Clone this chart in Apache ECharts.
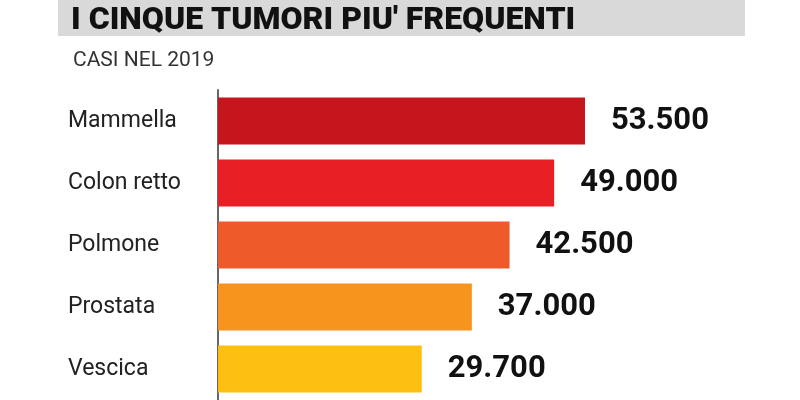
<!DOCTYPE html>
<html><head><meta charset="utf-8">
<script src="https://cdn.jsdelivr.net/npm/echarts@6/dist/echarts.min.js"></script>
<style>html,body{margin:0;background:#fff}#c{width:800px;height:400px}</style>
</head><body><div id="c"></div>
<script>
const categories = ['Mammella','Colon retto','Polmone','Prostata','Vescica'];
const values = [53500, 49000, 42500, 37000, 29700];
const labels = ['53.500','49.000','42.500','37.000','29.700'];
const colors = ['#c4161c','#e81f25','#ef5a2b','#f7941d','#fdc010'];
const chart = echarts.init(document.getElementById('c'));
chart.setOption({
  backgroundColor:'#fff',
  animation:false,
  title:[{text:"I CINQUE TUMORI PIU' FREQUENTI",left:66,top:0,textStyle:{fontFamily:'Roboto',fontWeight:'900',fontSize:32,color:'#111'}},
         {text:'CASI NEL 2019',left:68,top:45,textStyle:{fontFamily:'Roboto',fontWeight:'normal',fontSize:21,color:'#333'}}],
  graphic:[{type:'rect',z:-1,shape:{x:58,y:0,width:687,height:36},style:{fill:'#d9d9d9'}}],
  grid:{left:208,right:0,top:90,height:312},
  xAxis:{type:'value',min:-1460,max:84840,show:false},
  yAxis:{type:'category',data:categories,inverse:true,
    axisLine:{lineStyle:{color:'#666',width:2}},axisTick:{show:false},
    axisLabel:{align:'left',margin:140,fontFamily:'Roboto',fontSize:23,color:'#222'}},
  series:[{type:'bar',barWidth:47,
    data:values.map((v,i)=>({value:v,itemStyle:{color:colors[i]}})),
    label:{show:true,position:'right',distance:26,fontFamily:'Roboto',fontWeight:'bold',fontSize:31,color:'#111',
      formatter:p=>labels[p.dataIndex]}}]
});
</script></body></html>
